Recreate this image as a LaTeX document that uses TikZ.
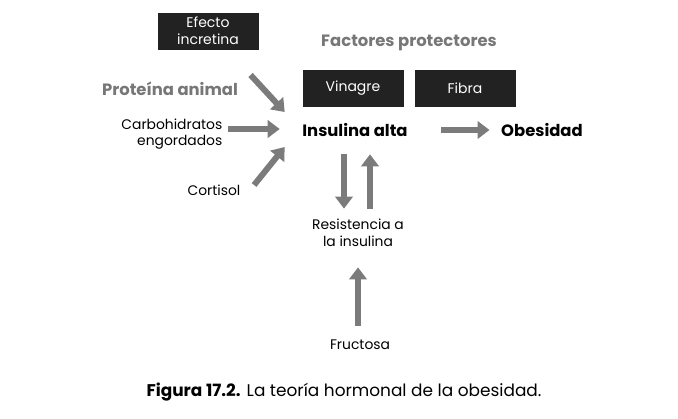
\documentclass[tikz,border=0pt]{standalone}
\usepackage{fontspec}
\setmainfont{Poppins}
\usetikzlibrary{arrows.meta,positioning}
\definecolor{cajagris}{HTML}{222222}
\definecolor{flechagris}{HTML}{7B7B7B}
\definecolor{textogris}{HTML}{777777}
\tikzset{
  caja/.style={fill=cajagris,text=white,minimum width=75.75pt,minimum height=27.75pt,
    align=center,inner sep=0pt,font=\fontsize{10.5}{12.5}\selectfont},
  flecha/.style={draw=flechagris,line width=4.5pt,
    -{Triangle[length=9pt,width=13pt]}},
  texto/.style={align=center,font=\fontsize{10.4}{12.5}\selectfont},
  titulo/.style={font=\fontsize{12.3}{14}\selectfont\bfseries},
}
\begin{document}
\begin{tikzpicture}[x=0.75pt,y=-0.75pt]
\useasboundingbox (0,0) rectangle (678,418);
% cajas
\node[caja] (efecto) at (208,31) {Efecto\\incretina};
\node[caja] (vinagre) at (353,88) {Vinagre};
\node[caja] (fibra) at (465,88) {Fibra};
\node[titulo,text=textogris] (factores) at (409,43) {Factores protectores};
% textos
\node[titulo,text=textogris] (prot) at (170,89) {Proteína animal};
\node[texto,align=right,anchor=east] (carb) at (227,134) {Carbohidratos\\engordados};
\node[texto] (cort) at (214,190) {Cortisol};
\node[titulo] (ins) at (355,130) {Insulina alta};
\node[titulo] (obes) at (542,130) {Obesidad};
\node[texto] (resist) at (358,233) {Resistencia a\\la insulina};
\node[texto] (fruct) at (360,345) {Fructosa};
% flechas
\draw[flecha] ([shift={(8,-14)}]prot.east) -- ([shift={(-13,-18)}]ins.west);
\draw[flecha] ([shift={(1,-5)}]carb.east) -- ([shift={(-18,-1)}]ins.west);
\draw[flecha] ([shift={(9,-5)}]cort.east) -- ([shift={(-13,17)}]ins.west);
\draw[flecha] ([shift={(29,0)}]ins.east) -- ([shift={(-7,0)}]obes.west);
\draw[flecha] ([shift={(-11,13)}]ins.south) -- ([shift={(-14,-6)}]resist.north);
\draw[flecha] ([shift={(12,-6)}]resist.north) -- ([shift={(15,13)}]ins.south);
\draw[flecha] ([shift={(-2,-9)}]fruct.north) -- ([shift={(0,16)}]resist.south);
% pie
\node[font=\fontsize{12.7}{14}\selectfont] (pie) at (344,392) {\textbf{Figura 17.2.} La teoría hormonal de la obesidad.};
\end{tikzpicture}
\end{document}
